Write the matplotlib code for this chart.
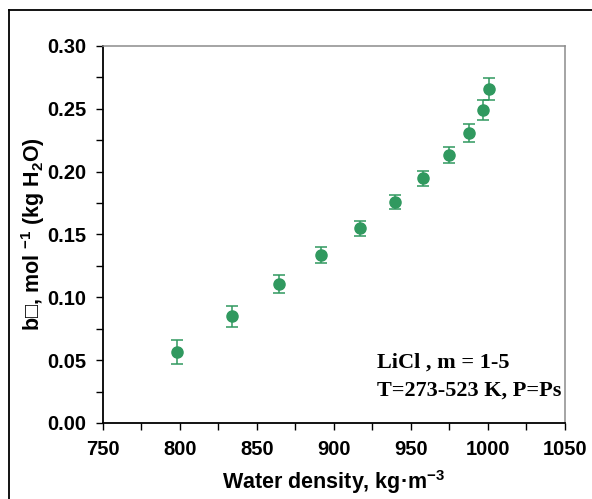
import matplotlib.pyplot as plt
from matplotlib.lines import Line2D
from matplotlib.ticker import MultipleLocator

# water density (kg/m3) vs b coefficient, LiCl
density = [798, 834, 864.5, 891.5, 917, 939.5, 958, 975, 988, 996.5, 1000.5]
b_val = [0.0567, 0.0848, 0.1105, 0.1335, 0.1549, 0.1757, 0.1947, 0.2132, 0.2308, 0.2489, 0.2658]
b_err = [0.0095, 0.0085, 0.0069, 0.0064, 0.0062, 0.0056, 0.0058, 0.0061, 0.0068, 0.0080, 0.0090]

green = '#30995f'

plt.rcParams['font.family'] = ['Liberation Sans', 'DejaVu Sans']
plt.rcParams['font.weight'] = 'bold'
plt.rcParams['mathtext.fontset'] = 'custom'
plt.rcParams['mathtext.rm'] = 'Liberation Sans:bold'
plt.rcParams['mathtext.bf'] = 'Liberation Sans:bold'
plt.rcParams['mathtext.it'] = 'Liberation Sans:bold'

W, H = 592, 499
fig = plt.figure(figsize=(W / 100, H / 100), dpi=100)
ax = fig.add_axes([102.7 / W, (H - 423) / H, (565 - 102.7) / W, (423 - 46) / H])

ax.errorbar(density, b_val, yerr=b_err, fmt='o', color=green, ecolor=green,
            markersize=8, elinewidth=1.1, capsize=4.3, capthick=1.1, zorder=3)

ax.set_xlim(750, 1050)
ax.set_ylim(0, 0.30)
ax.xaxis.set_major_locator(MultipleLocator(50))
ax.xaxis.set_minor_locator(MultipleLocator(25))
ax.yaxis.set_major_locator(MultipleLocator(0.05))
ax.yaxis.set_minor_locator(MultipleLocator(0.025))
ax.yaxis.set_major_formatter(plt.FormatStrFormatter('%.2f'))

ax.tick_params(which='both', direction='out', length=5, width=1, color='black',
               labelsize=14.5, pad=7)
for lab in ax.get_xticklabels() + ax.get_yticklabels():
    lab.set_fontweight('bold')

for s in ['left', 'bottom']:
    ax.spines[s].set_color('black')
    ax.spines[s].set_linewidth(1.3)
for s in ['top', 'right']:
    ax.spines[s].set_color('#8c8c8c')
    ax.spines[s].set_linewidth(1.1)

ax.set_xlabel('Water density, kg\u00b7m$^{-3}$', fontsize=15.5, fontweight='bold', labelpad=7)
ax.set_ylabel('b\u25a1, mol $^{-1}$ (kg H$_2$O)', fontsize=15.5, fontweight='bold', labelpad=-0.5)

ax.text(0.593, 0.146, 'LiCl , m = 1-5', transform=ax.transAxes, fontsize=16,
        fontweight='bold', family='Liberation Serif', va='baseline')
ax.text(0.593, 0.074, 'T=273-523 K, P=Ps', transform=ax.transAxes, fontsize=16,
        fontweight='bold', family='Liberation Serif', va='baseline')

# outer frame (cropped at right and bottom)
fig.add_artist(Line2D([9 / W, 9 / W], [0, (H - 10) / H], transform=fig.transFigure,
                      color='black', lw=1.3))
fig.add_artist(Line2D([9 / W, 1], [(H - 10) / H, (H - 10) / H], transform=fig.transFigure,
                      color='black', lw=1.3))

fig.savefig('out.png', dpi=100)
